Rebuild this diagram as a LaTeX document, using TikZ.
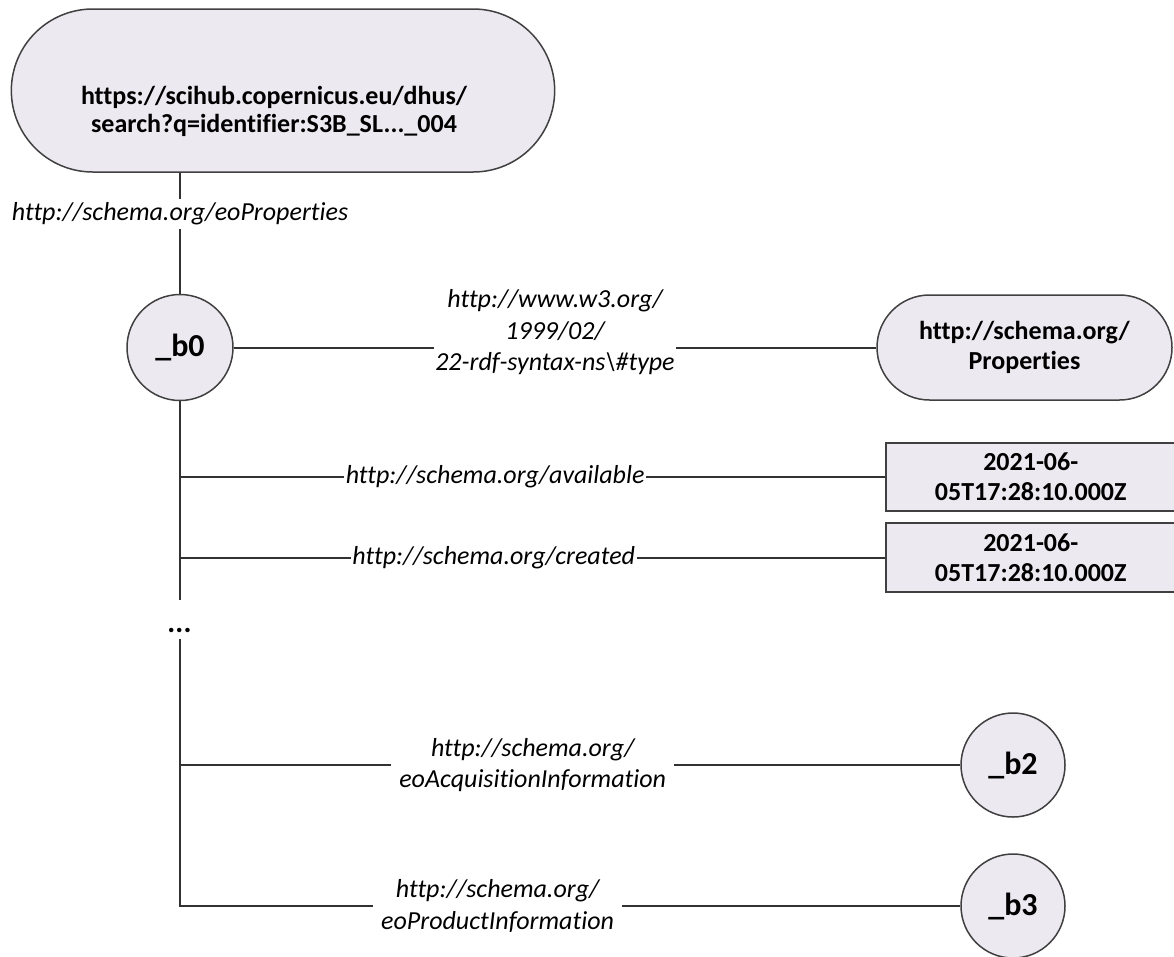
\documentclass[tikz,border=0pt]{standalone}
\usepackage{fontspec}
\setmainfont{Carlito}[Ligatures={NoCommon}]
\usetikzlibrary{shapes.misc}
\definecolor{fc}{RGB}{236,233,241}
\definecolor{lc}{RGB}{64,64,64}
\definecolor{ec}{RGB}{50,50,50}
\begin{document}
\begin{tikzpicture}[x=1pt,y=-1pt,
  ent/.style={draw=lc, fill=fc, line width=1.5pt, align=center,
    font=\fontsize{26}{30}\selectfont\bfseries},
  stadium/.style={ent, rounded rectangle},
  bnode/.style={ent, circle, minimum size=106pt, inner sep=0pt,
    font=\fontsize{32}{36}\selectfont\bfseries},
  litbox/.style={ent, rectangle, minimum width=290pt, minimum height=68pt, inner sep=0pt, anchor=west},
  txt/.style={align=center, font=\fontsize{26}{28}\selectfont\bfseries},
  lbl/.style={fill=white, align=center, inner xsep=1.5pt, inner ysep=4pt,
    font=\fontsize{26}{31.5}\selectfont\itshape},
  edge/.style={draw=ec, line width=2pt}]
\useasboundingbox (0,0) rectangle (1174,956);

% nodes
\node[stadium, minimum width=550pt, minimum height=163pt] (top) at (283,90.5) {};
\node[txt] (toptext) at (274,111) {https://scihub.copernicus.eu/dhus/\\search?q=identifier:S3B\_SL...\_004};
\node[bnode] (b0) at (180,347.5) {\_b0};
\node[stadium, minimum width=295pt, minimum height=105pt, inner sep=0pt] (props) at (1024.5,347.5) {http://schema.org/\\Properties};
\node[litbox] (d1) at (885,477) {2021-06-\\05T17:28:10.000Z};
\node[litbox, minimum height=69pt] (d2) at (885,557.5) {2021-06-\\05T17:28:10.000Z};
\node[bnode, minimum size=104pt] (b2) at (1013,765) {\_b2};
\node[bnode, minimum size=104pt] (b3) at (1013,906) {\_b3};
\node[font=\fontsize{30}{34}\selectfont\bfseries\itshape, inner sep=0pt] (dots) at (180,630) {...};
\coordinate (ta) at (180,600);
\coordinate (tb) at (180,639);

% connectors
\draw[edge] (b0 |- top.south) -- node[lbl, pos=0.34] {http://schema.org/eoProperties} (b0.north);
\draw[edge] (b0.east) -- node[lbl, pos=0.5, yshift=15pt] {http://www.w3.org/\\1999/02/\\22-rdf-syntax-ns\textbackslash\#type} (props.west);
\draw[edge] (b0.south) -- (ta);
\draw[edge] (b0.south |- d1.west) -- node[lbl, inner ysep=1pt, pos=0.447] {http://schema.org/available} (d1.west);
\draw[edge] (b0.south |- d2.west) -- node[lbl, inner ysep=1pt, pos=0.445] {http://schema.org/created} (d2.west);
\draw[edge] (tb) -- (tb |- b3.west) -- node[lbl, pos=0.407, inner xsep=8pt] {http://schema.org/\\eoProductInformation} (b3.west);
\draw[edge] (tb |- b2.west) -- node[lbl, pos=0.452, inner xsep=8pt] {http://schema.org/\\eoAcquisitionInformation} (b2.west);
\end{tikzpicture}
\end{document}
